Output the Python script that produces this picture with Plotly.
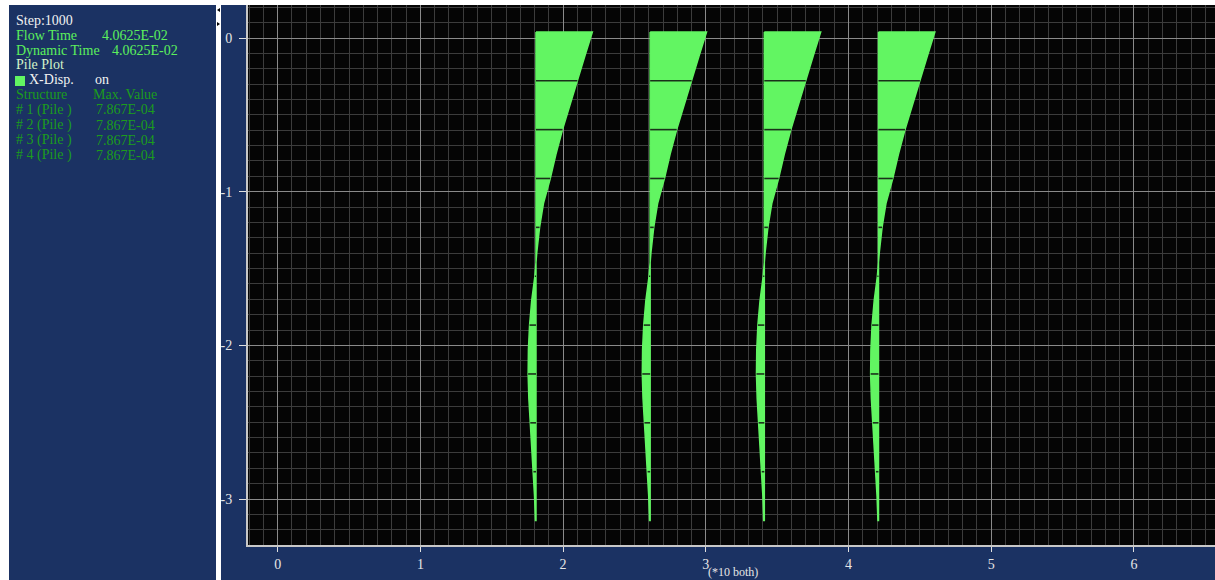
import plotly.graph_objects as go

# pile axis positions (plot units, axis shown as *10)
pile_x = [1.81, 2.61, 3.41, 4.21]

# depth along pile and X-displacement profile (scaled, plot units)
depth = [0.04, -0.119, -0.278, -0.437, -0.596, -0.755, -0.914, -1.073, -1.232, -1.391,
         -1.55, -1.709, -1.868, -2.027, -2.186, -2.345, -2.504, -2.663, -2.822, -2.981, -3.14]
disp = [0.395, 0.342, 0.29, 0.235, 0.186, 0.14, 0.10, 0.053, 0.025, 0.006,
        -0.008, -0.03, -0.045, -0.053, -0.055, -0.05, -0.04, -0.03, -0.018, -0.01, -0.004]

# element boundaries drawn as dark lines
seg_depth = [-0.278, -0.596, -0.914, -1.232, -1.55, -1.868, -2.186, -2.504, -2.822]
seg_disp = [0.29, 0.186, 0.10, 0.025, -0.008, -0.045, -0.055, -0.04, -0.018]

x_ticks = [0, 1, 2, 3, 4, 5, 6]
y_ticks = [0, -1, -2, -3]

W, H = 1215, 580
ML, MR, MT, MB = 248, 0, 5, 35
PW, PH = W - ML - MR, H - MT - MB

GREEN = '#62f562'
BLUE = '#1b3263'


def px(x):
    return (x - ML) / PW


def py(y):
    return (H - MB - y) / PH


fig = go.Figure()

for x0 in pile_x:
    xs = [x0] + [x0 + d for d in disp] + [x0, x0]
    ys = [depth[0]] + depth + [depth[-1], depth[0]]
    fig.add_trace(go.Scatter(x=xs, y=ys, mode='lines', fill='toself', fillcolor=GREEN,
                             line=dict(color=GREEN, width=1.5), hoverinfo='skip'))
    for d, w in zip(seg_depth, seg_disp):
        fig.add_trace(go.Scatter(x=[x0, x0 + w], y=[d, d], mode='lines',
                                 line=dict(color='#1a301a', width=1.6), hoverinfo='skip'))

axis_font = dict(family='Liberation Serif', size=14, color='#e6e6e6')
fig.update_layout(
    width=W, height=H,
    margin=dict(l=ML, r=MR, t=MT, b=MB),
    paper_bgcolor=BLUE,
    plot_bgcolor='#050505',
    showlegend=False,
    xaxis=dict(range=[-0.208, 6.568], tickvals=x_ticks, ticktext=[str(v) for v in x_ticks],
               showgrid=True, gridcolor='#8a8a8a',
               gridwidth=1, zeroline=False, showline=True, linecolor='#c8c8c8', linewidth=2,
               ticks='outside', ticklen=5, tickcolor='#e0e0e0', tickfont=axis_font,
               minor=dict(dtick=0.1, tick0=0, showgrid=True, gridcolor='#3c3c3c', gridwidth=1)),
    yaxis=dict(range=[-3.299, 0.215], tickvals=y_ticks, ticktext=[str(v) for v in y_ticks],
               showgrid=True, gridcolor='#8a8a8a',
               gridwidth=1, zeroline=False, showline=True, linecolor='#c8c8c8', linewidth=2,
               ticks='outside', ticklen=7, tickcolor='#e0e0e0', tickfont=axis_font,
               ticklabelstandoff=4,
               minor=dict(dtick=0.1, tick0=0, showgrid=True, gridcolor='#3c3c3c', gridwidth=1)),
)

# white page strips round the panels
for x0, x1, y0, y1 in [(0, W, 0, 5), (0, 9, 0, H), (216, 221, 0, H)]:
    fig.add_shape(type='rect', xref='paper', yref='paper', x0=px(x0), x1=px(x1),
                  y0=py(y1), y1=py(y0), fillcolor='white', line=dict(width=0), layer='above')

# small splitter arrows on the white strip
fig.add_shape(type='path', xref='paper', yref='paper', layer='above',
              path=f'M {px(217)} {py(10)} L {px(220)} {py(8)} L {px(220)} {py(12)} Z',
              fillcolor='black', line=dict(width=0))
fig.add_shape(type='path', xref='paper', yref='paper', layer='above',
              path=f'M {px(220)} {py(24)} L {px(217)} {py(22)} L {px(217)} {py(26)} Z',
              fillcolor='black', line=dict(width=0))

# legend swatch
fig.add_shape(type='rect', xref='paper', yref='paper', x0=px(15), x1=px(25),
              y0=py(86), y1=py(76), fillcolor=GREEN, line=dict(width=0))

WHITE = '#f2f2f2'
LGREEN = '#5cf05c'
PALE = '#d2f2c8'
DGREEN = '#1c9c1c'
info = [
    ('Step:1000', 14, 20, WHITE),
    ('Flow Time', 14, 35, LGREEN), ('4.0625E-02', 100, 35, LGREEN),
    ('Dynamic Time', 14, 50, LGREEN), ('4.0625E-02', 110, 50, LGREEN),
    ('Pile Plot', 14, 64, PALE),
    ('X-Disp.', 27, 80, WHITE), ('on', 93, 80, WHITE),
    ('Structure', 14, 95, DGREEN), ('Max. Value', 91, 95, DGREEN),
    ('# 1 (Pile )', 14, 110, DGREEN), ('7.867E-04', 94, 110, DGREEN),
    ('# 2 (Pile )', 14, 125, DGREEN), ('7.867E-04', 94, 125, DGREEN),
    ('# 3 (Pile )', 14, 140, DGREEN), ('7.867E-04', 94, 140, DGREEN),
    ('# 4 (Pile )', 14, 155, DGREEN), ('7.867E-04', 94, 155, DGREEN),
]
for text, x, y, c in info:
    fig.add_annotation(text=text, xref='paper', yref='paper', x=px(x), y=py(y),
                       xanchor='left', yanchor='middle', showarrow=False,
                       font=dict(family='Liberation Serif', size=14, color=c))

fig.add_annotation(text='(*10 both)', xref='paper', yref='paper', x=px(733), y=py(572),
                   showarrow=False, xanchor='center', yanchor='middle',
                   font=dict(family='Liberation Serif', size=12, color='#e6e6e6'))

# page body margin would shift the figure by 8px
fig.write_html("out.html", config={'displayModeBar': False},
               post_script="document.body.style.margin='0';")
